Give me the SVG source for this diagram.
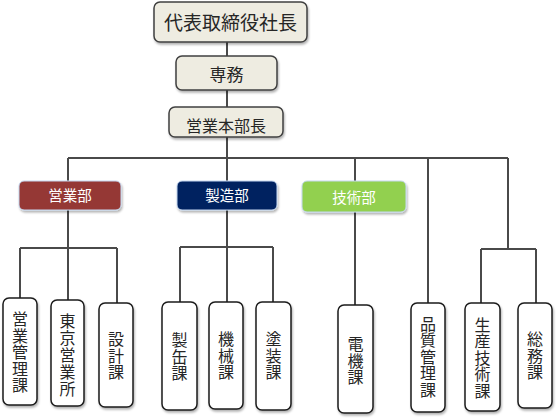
<svg xmlns="http://www.w3.org/2000/svg" width="556" height="418" viewBox="0 0 556 418">
<defs>
<filter id="sh" x="-20%" y="-20%" width="150%" height="150%">
<feDropShadow dx="1" dy="2" stdDeviation="1.2" flood-color="#000" flood-opacity="0.3"/>
</filter>
<style>
.ln{stroke:#4a4a4a;stroke-width:2;fill:none;}
.top{fill:#eeece1;stroke:#404040;stroke-width:1.5;filter:url(#sh);}
.dep{stroke:#c6d9f1;stroke-width:1;filter:url(#sh);}
.sec{fill:#fff;stroke:#1a1a1a;stroke-width:1.5;filter:url(#sh);}
text{font-family:"Noto Sans CJK JP","Noto Sans CJK SC",sans-serif;text-anchor:middle;}
.tt{fill:#262626;}
.dt{fill:#fff;font-size:14.5px;}
.st{fill:#262626;font-size:16px;writing-mode:vertical-rl;letter-spacing:0.5px;}
</style>
</defs>
<rect width="556" height="418" fill="#fff"/>
<g id="connectors">
<path class="ln" d="M227 42V56M227 90V107M227 137V158M68 158H508M68 158V248M227 158V247M355 158V305M428 158V303M508 158V249M20 248H117M20 248V298M68 248V300M117 248V303M180 247H273M180 247V302M227 247V302M273 247V302M481 249H536M481 249V303M536 249V303"/>
</g>
<g id="n-ceo"><rect class="top" x="154" y="2" width="153" height="40" rx="6"/><text class="tt" x="230.5" y="30" font-size="19">代表取締役社長</text></g>
<g id="n-senmu"><rect class="top" x="176" y="56" width="101" height="34" rx="6"/><text class="tt" x="226.5" y="81" font-size="17">専務</text></g>
<g id="n-honbu"><rect class="top" x="169" y="107" width="114" height="30" rx="6"/><text class="tt" x="226" y="131.5" font-size="16">営業本部長</text></g>
<g id="n-eigyo"><rect class="dep" x="19" y="181" width="102" height="29" rx="5" fill="#953735"/><text class="dt" x="70" y="201">営業部</text></g>
<g id="n-seizo"><rect class="dep" x="177" y="181" width="100" height="29" rx="5" fill="#002060"/><text class="dt" x="227" y="201">製造部</text></g>
<g id="n-gijutsu"><rect class="dep" x="302" y="181" width="104" height="31" rx="5" fill="#92d050"/><text class="dt" x="354" y="203">技術部</text></g>
<g id="n-eikan"><rect class="sec" x="3" y="298" width="34" height="107" rx="6"/><text class="st" x="20" y="352.5">営業管理課</text></g>
<g id="n-tokyo"><rect class="sec" x="51" y="300" width="33" height="106" rx="6"/><text class="st" x="67.5" y="355" style="letter-spacing:1px">東京営業所</text></g>
<g id="n-sekkei"><rect class="sec" x="99" y="303" width="34" height="104" rx="6"/><text class="st" x="116" y="356">設計課</text></g>
<g id="n-seikan"><rect class="sec" x="162" y="302" width="35" height="108" rx="6"/><text class="st" x="179.5" y="357">製缶課</text></g>
<g id="n-kikai"><rect class="sec" x="209" y="302" width="34" height="107" rx="6"/><text class="st" x="226" y="356">機械課</text></g>
<g id="n-toso"><rect class="sec" x="256" y="302" width="35" height="108" rx="6"/><text class="st" x="273.5" y="356">塗装課</text></g>
<g id="n-denki"><rect class="sec" x="338" y="305" width="35" height="108" rx="6"/><text class="st" x="355.5" y="361">電機課</text></g>
<g id="n-hinkan"><rect class="sec" x="411" y="303" width="34" height="109" rx="6"/><text class="st" x="428" y="357">品質管理課</text></g>
<g id="n-seisan"><rect class="sec" x="465" y="303" width="35" height="108" rx="6"/><text class="st" x="482.5" y="358">生産技術課</text></g>
<g id="n-somu"><rect class="sec" x="518" y="303" width="34" height="105" rx="6"/><text class="st" x="535" y="356">総務課</text></g>
</svg>
